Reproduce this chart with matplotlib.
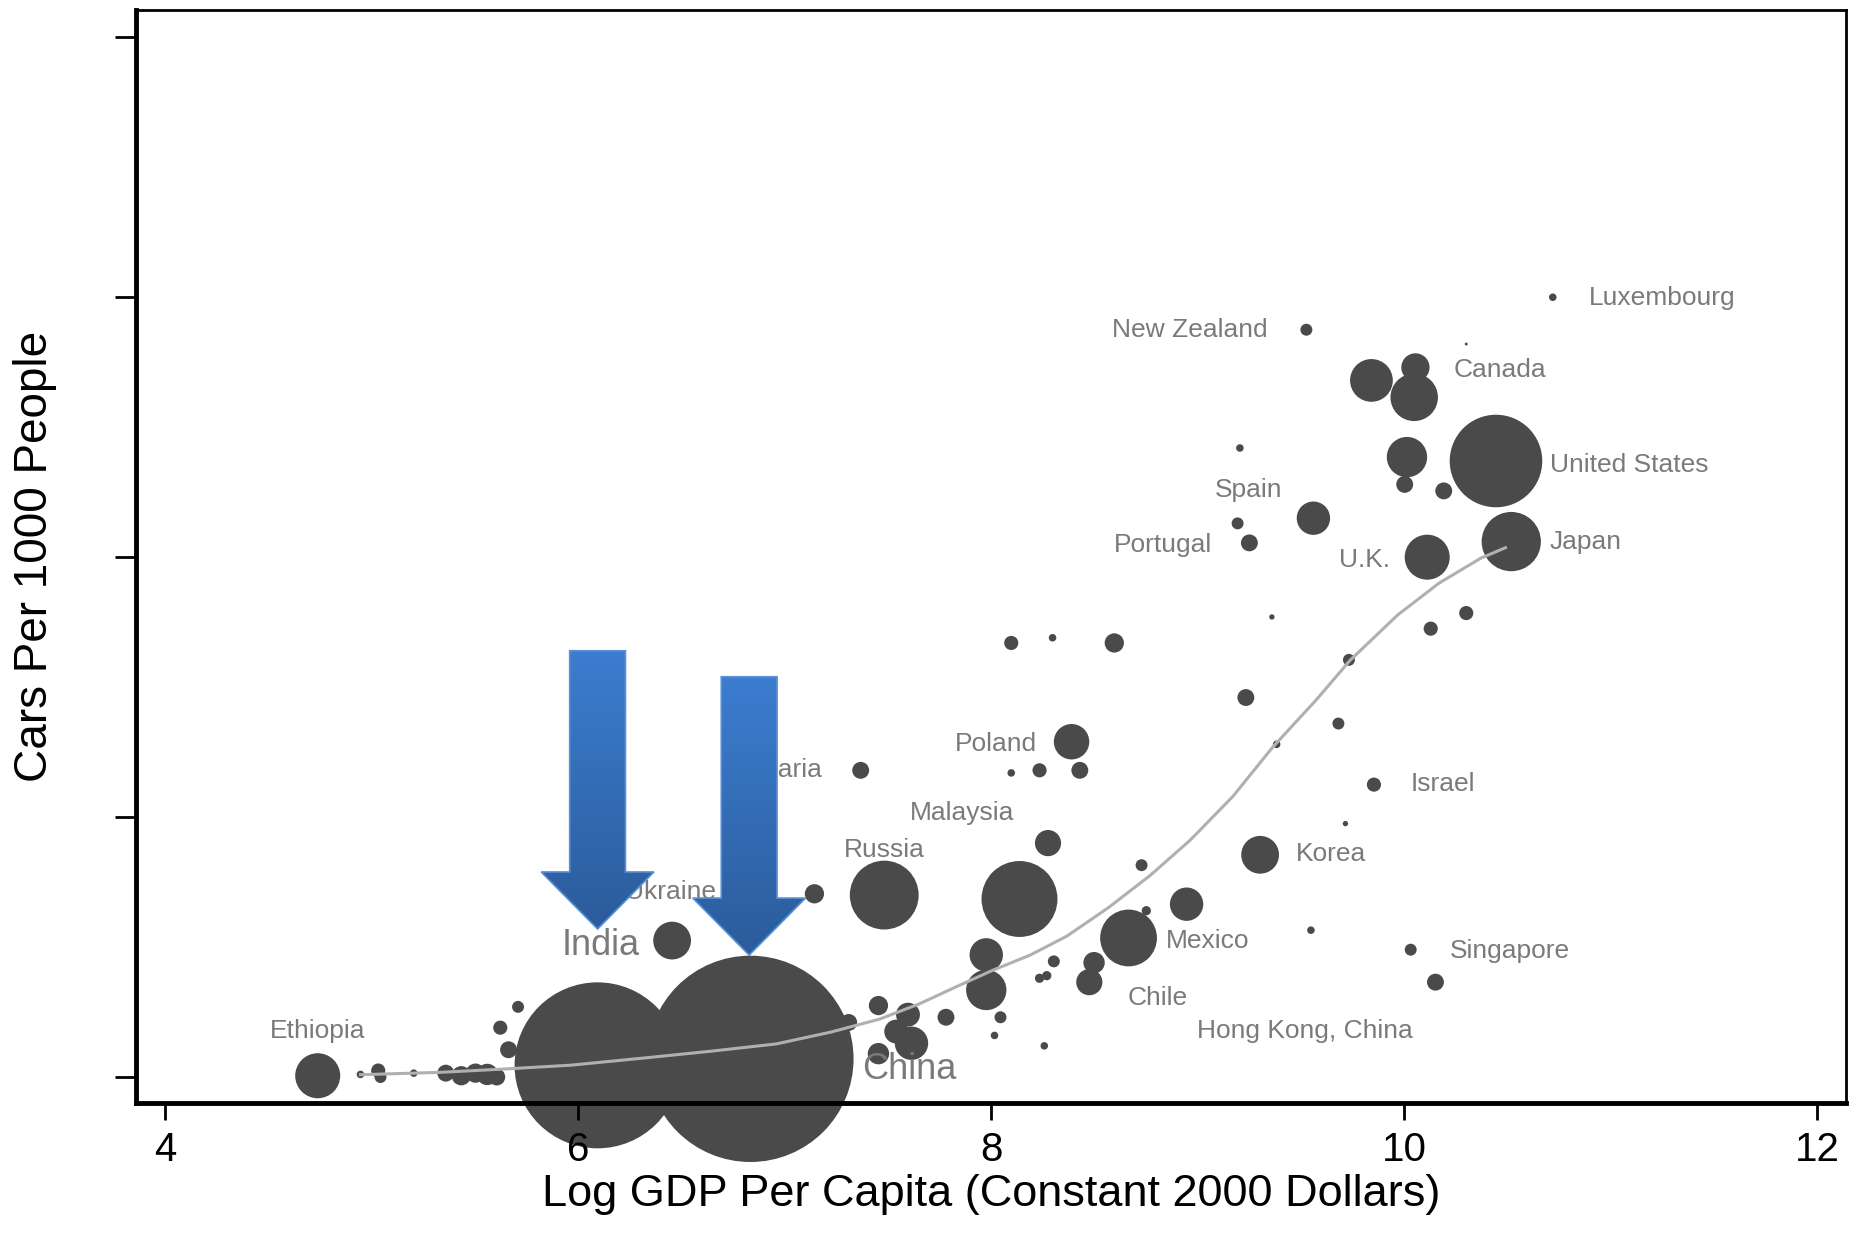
import numpy as np
import matplotlib
matplotlib.use('Agg')
import matplotlib.pyplot as plt
from matplotlib.patches import Polygon

plt.rcParams['font.family'] = ['Liberation Sans', 'DejaVu Sans']

# Countries: log GDP per capita, cars per 1000 people, population (millions)
gdp = [4.74, 4.947, 5.033, 5.044, 5.205, 5.36, 5.435, 5.504, 5.561, 5.607, 5.624, 5.71, 5.664,
       6.095, 6.835, 7.225, 7.311, 7.455, 7.598, 7.615, 7.541, 7.455, 7.782, 7.977, 7.977,
       8.046, 8.017, 8.258, 8.235, 8.27, 8.304, 8.476, 8.499, 8.666, 8.752, 8.947, 8.729,
       7.483, 7.145, 8.138, 8.276, 6.456, 7.369, 8.39, 8.098, 8.235, 8.43, 8.098, 8.298,
       8.597, 9.234, 9.383, 9.36, 9.682, 9.733, 9.716, 9.303, 9.854, 9.549, 10.032, 10.152,
       10.129, 10.301, 10.112, 10.519, 10.445, 10.192, 10.014, 10.003, 9.842, 10.055, 10.049,
       10.301, 9.527, 10.72, 9.561, 9.251, 9.194, 9.205]
cars = [1, 2, 5, 0, 3, 3, 1, 3, 2, 0, 38, 54, 21,
        9, 14, 46, 42, 55, 48, 26, 35, 18, 46, 94, 67,
        46, 32, 24, 76, 78, 89, 73, 88, 107, 128, 133, 163,
        140, 141, 137, 180, 105, 236, 258, 234, 236, 236, 334, 338,
        334, 292, 256, 354, 272, 321, 195, 171, 225, 113, 98, 73,
        345, 357, 400, 412, 474, 451, 477, 456, 536, 546, 523,
        564, 575, 600, 430, 411, 426, 484]
pop = [71, 2, 7, 5, 2, 10, 13, 13, 16, 10, 7, 5, 10,
       965, 1491, 13, 10, 13, 20, 39, 20, 16, 10, 39, 57,
       5, 2, 2, 3, 3, 5, 24, 16, 113, 3, 39, 5,
       166, 13, 202, 24, 50, 10, 44, 2, 7, 10, 7, 2,
       13, 10, 2, 1, 5, 5, 1, 50, 7, 2, 5, 10,
       7, 7, 71, 123, 300, 10, 57, 10, 64, 28, 79,
       0.3, 5, 2, 39, 10, 5, 2]

# Smoothed fit line
fit_x = [4.947, 5.331, 5.67, 5.963, 6.318, 6.651, 6.961, 7.225, 7.461, 7.656, 7.828, 8.006,
         8.189, 8.367, 8.568, 8.769, 8.964, 9.171, 9.366, 9.572, 9.739, 9.968, 10.169,
         10.37, 10.491]
fit_y = [1.8, 3.6, 6.4, 9.1, 14.6, 20.0, 25.5, 34.6, 44.6, 56.5, 69.2, 82.0,
         93.8, 108.4, 130.3, 154.9, 182.2, 215.9, 254.2, 289.7, 320.7, 355.4, 380.0,
         399.1, 407.3]

# Country labels
names = ['Ethiopia', 'India', 'China', 'Ukraine', 'Bulgaria', 'Russia', 'Malaysia', 'Poland',
         'Mexico', 'Chile', 'Hong Kong, China', 'Korea', 'Israel', 'Singapore', 'Luxembourg',
         'New Zealand', 'Canada', 'United States', 'Spain', 'Portugal', 'U.K.', 'Japan']
name_x = [4.74, 6.112, 7.604, 6.45, 7.185, 7.483, 7.862, 8.023, 9.05, 8.809, 9.521, 9.647,
          10.187, 10.514, 11.248, 8.964, 10.462, 11.088, 9.245, 8.832, 9.808, 10.881]
name_y = [35.5, 101.1, 5.5, 142.1, 236, 174.9, 203.2, 256.0, 104.8, 61.0, 35.5, 171.3,
          225.1, 96.6, 599.5, 574.9, 544.0, 471.1, 451.9, 409.1, 398.2, 411.8]
name_ha = ['center'] * len(names)
name_ha[4] = 'right'
big_names = ['India', 'China']

# arrows pointing at India and China: (tip x, tip y, top y)
arrows = [(6.095, 113.9, 328), (6.829, 93.8, 308)]

fig = plt.figure(figsize=(18.6, 12.37), dpi=100)
ax = fig.add_axes([0.0731, 0.1083, 0.9194, 0.8836])

ax.scatter(gdp, cars, s=np.array(pop) * 14.8, color='#4a4a4a', linewidths=0,
           zorder=2, clip_on=False)
ax.plot(fit_x, fit_y, color='#b0b0b0', lw=2.2, zorder=3)

for n, x, y, ha in zip(names, name_x, name_y, name_ha):
    fs = 26 if n in big_names else 19
    ax.text(x, y, n, ha=ha, va='center', fontsize=fs, color='#7a7a7a', zorder=4)

# blue gradient block arrows (lighter at the top)
grad = np.linspace(0, 1, 256).reshape(-1, 1)
cmap = matplotlib.colors.LinearSegmentedColormap.from_list('blu', ['#3c7dd0', '#2b5c9b'])
for tx, ty, top in arrows:
    sw, hw = 0.135, 0.273
    base = ty + (top - ty) * 0.205
    pts = [(tx - sw, top), (tx + sw, top), (tx + sw, base), (tx + hw, base),
           (tx, ty), (tx - hw, base), (tx - sw, base)]
    poly = Polygon(pts, closed=True, facecolor='none', edgecolor='#5b8fd6', lw=1.2, zorder=6)
    ax.add_patch(poly)
    im = ax.imshow(grad, cmap=cmap, extent=[tx - hw, tx + hw, ty, top], aspect='auto',
                   origin='upper', zorder=5)
    im.set_clip_path(poly)

ax.set_xlim(3.86, 12.14)
ax.set_ylim(-20, 821)
ax.set_xticks([4, 6, 8, 10, 12])
ax.set_yticks([0, 200, 400, 600, 800])
ax.set_yticklabels([])
ax.set_axisbelow(False)
ax.tick_params(axis='x', labelsize=29, length=12, width=2, pad=8)
ax.tick_params(axis='y', length=15, width=2)
for side in ['left', 'bottom']:
    ax.spines[side].set_linewidth(3.5)
for side in ['top', 'right']:
    ax.spines[side].set_linewidth(2)

ax.set_xlabel('Log GDP Per Capita (Constant 2000 Dollars)', fontsize=32.5, labelpad=4)
ax.set_ylabel('Cars Per 1000 People', fontsize=33, labelpad=38)

plt.savefig('out.png', dpi=100)
